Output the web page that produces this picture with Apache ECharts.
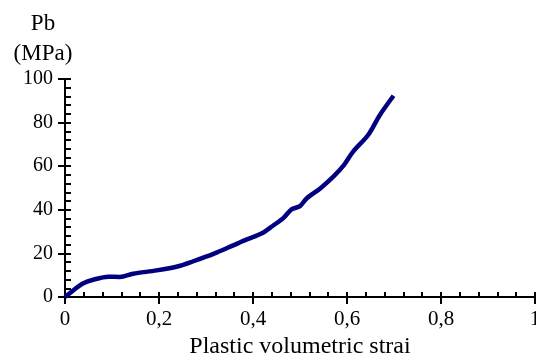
<!DOCTYPE html>
<html>
<head>
<meta charset="utf-8">
<script src="https://cdn.jsdelivr.net/npm/echarts@6/dist/echarts.min.js"></script>
<style>
  html, body { margin: 0; padding: 0; background: #fff; }
  #chart { width: 536px; height: 359px; }
</style>
</head>
<body>
<div id="chart"></div>
<script>
// plastic volumetric strain vs Pb (MPa)
const strain = [0, 0.018, 0.037, 0.06, 0.092, 0.117, 0.145, 0.195, 0.241, 0.273, 0.316, 0.358, 0.387, 0.419, 0.443, 0.465, 0.482, 0.5, 0.514, 0.543, 0.571, 0.592, 0.613, 0.645, 0.67, 0.699];
const pb = [0, 3.1, 6.1, 7.9, 9.3, 9.2, 10.7, 12.2, 14.1, 16.4, 19.8, 23.7, 26.4, 29.2, 32.8, 36.3, 40.2, 41.7, 45.2, 49.8, 55.2, 60.1, 66.7, 74.3, 83.5, 92.3];

const xTicks = ['0', '0,2', '0,4', '0,6', '0,8', '1'];
const yTicks = ['0', '20', '40', '60', '80', '100'];

const font = 'Liberation Serif';
const ink = '#000';

function xLabel(v) {
  return xTicks[Math.round(v / 0.2)];
}
function yLabel(v) {
  return yTicks[Math.round(v / 20)];
}

const chart = echarts.init(document.getElementById('chart'));

const baseX = {
  type: 'value', min: 0, max: 1, interval: 0.2, position: 'bottom',
  axisLine: { show: true, onZero: false, lineStyle: { color: ink, width: 2 } },
  splitLine: { show: false }
};
const baseY = {
  type: 'value', min: 0, max: 100, interval: 20, position: 'left',
  axisLine: { show: true, onZero: false, lineStyle: { color: ink, width: 2 } },
  splitLine: { show: false }
};

chart.setOption({
  animation: false,
  title: {
    text: 'Pb\n(MPa)',
    left: 38, top: 4, textAlign: 'center',
    textStyle: { fontFamily: font, fontSize: 23, fontWeight: 'normal', color: ink, lineHeight: 30 }
  },
  grid: { left: 65, right: 1, top: 79, bottom: 62, containLabel: false, outerBoundsMode: 'none' },
  xAxis: [
    Object.assign({}, baseX, {
      name: 'Plastic volumetric strai',
      nameLocation: 'middle', nameGap: 36,
      nameTextStyle: { fontFamily: font, fontSize: 24, color: ink },
      axisTick: { show: true, inside: true, length: 5, lineStyle: { color: ink, width: 2 } },
      minorTick: { show: true, splitNumber: 5, length: 5, lineStyle: { color: ink, width: 2 } },
      axisLabel: { fontFamily: font, fontSize: 21, color: ink, margin: 12, formatter: xLabel }
    }),
    Object.assign({}, baseX, {
      axisTick: { show: true, inside: false, length: 7, lineStyle: { color: ink, width: 2 } },
      axisLabel: { show: false }
    })
  ],
  yAxis: [
    Object.assign({}, baseY, {
      axisTick: { show: true, inside: true, length: 6, lineStyle: { color: ink, width: 2 } },
      minorTick: { show: true, splitNumber: 5, length: 6, lineStyle: { color: ink, width: 2 } },
      axisLabel: { fontFamily: font, fontSize: 20, color: ink, margin: 12, formatter: yLabel }
    }),
    Object.assign({}, baseY, {
      axisTick: { show: true, inside: false, length: 7, lineStyle: { color: ink, width: 2 } },
      axisLabel: { show: false }
    })
  ],
  series: [{
    type: 'line',
    data: strain.map((s, i) => [s, pb[i]]),
    showSymbol: false,
    smooth: 0.3,
    lineStyle: { color: '#000080', width: 4.5 },
    clip: false
  }]
});
</script>
</body>
</html>
